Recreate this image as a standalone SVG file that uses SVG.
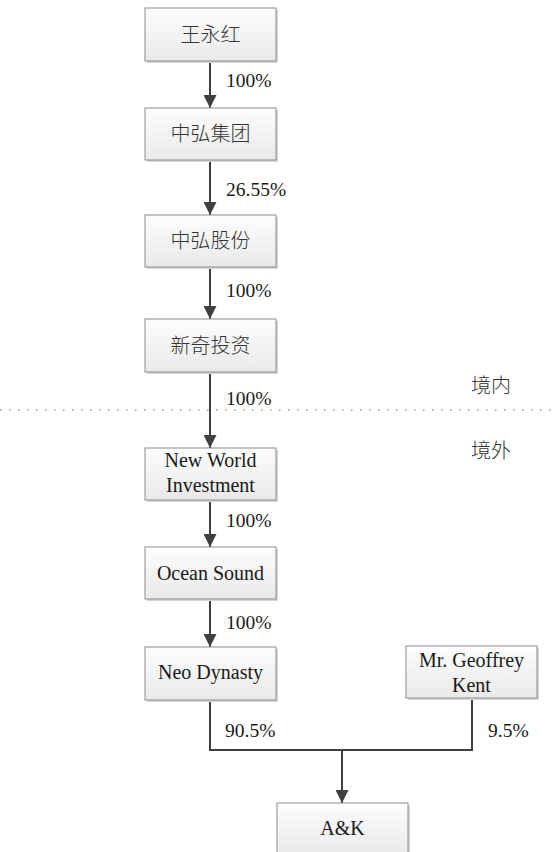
<svg xmlns="http://www.w3.org/2000/svg" width="553" height="852" viewBox="0 0 553 852">
<defs>
<linearGradient id="g" x1="0" y1="0" x2="0" y2="1">
<stop offset="0" stop-color="#fdfdfd"/>
<stop offset="1" stop-color="#e9e9e9"/>
</linearGradient>
<marker id="arr" viewBox="0 0 12 13" refX="13" refY="6.5" markerWidth="13" markerHeight="13" markerUnits="userSpaceOnUse" orient="auto">
<path d="M0,0 L13,6.5 L0,13 Z" fill="#404040"/>
</marker>
</defs>
<style>
.box{fill:url(#g);stroke:#8c8c8c;stroke-width:1}
.sh{fill:#d6d6d6}
.t{font-family:"Liberation Serif","Noto Sans CJK SC",serif;font-size:20px;fill:#1a1a1a;text-anchor:middle}
.cjk{font-weight:300;fill:#333333}
.l{font-family:"Liberation Serif","Noto Sans CJK SC",serif;font-size:19.5px;fill:#1a1a1a}
.c{stroke:#404040;stroke-width:2;fill:none}
</style>
<rect width="553" height="852" fill="#ffffff"/>
<g id="connectors">
<line class="c" x1="210" y1="61" x2="210" y2="108" marker-end="url(#arr)"/>
<line class="c" x1="210" y1="160" x2="210" y2="215" marker-end="url(#arr)"/>
<line class="c" x1="210" y1="267" x2="210" y2="319" marker-end="url(#arr)"/>
<line class="c" x1="210" y1="372" x2="210" y2="448" marker-end="url(#arr)"/>
<line class="c" x1="210" y1="500" x2="210" y2="547" marker-end="url(#arr)"/>
<line class="c" x1="210" y1="599" x2="210" y2="647" marker-end="url(#arr)"/>
<polyline class="c" points="210,700 210,750 472,750 472,698"/>
<line class="c" x1="342" y1="750" x2="342" y2="803" marker-end="url(#arr)"/>
</g>
<g id="labels">
<text class="l" x="226" y="87">100%</text>
<text class="l" x="226" y="196">26.55%</text>
<text class="l" x="226" y="297">100%</text>
<text class="l" x="226" y="405">100%</text>
<text class="l" x="226" y="527">100%</text>
<text class="l" x="226" y="629">100%</text>
<text class="l" x="225" y="737">90.5%</text>
<text class="l" x="488" y="737">9.5%</text>
</g>
<g id="boundary">
<line x1="0" y1="410" x2="553" y2="410" stroke="#9a9a9a" stroke-width="1.5" stroke-dasharray="1.5 7.5"/>
<text class="t cjk" x="491" y="393">境内</text>
<text class="t cjk" x="491" y="458">境外</text>
</g>
<g id="n1"><rect class="sh" x="147" y="10" width="131" height="53"/><rect class="box" x="145" y="8" width="131" height="53"/><text class="t cjk" x="210.5" y="42">王永红</text></g>
<g id="n2"><rect class="sh" x="147" y="110" width="131" height="52"/><rect class="box" x="145" y="108" width="131" height="52"/><text class="t cjk" x="210.5" y="141">中弘集团</text></g>
<g id="n3"><rect class="sh" x="147" y="217" width="131" height="52"/><rect class="box" x="145" y="215" width="131" height="52"/><text class="t cjk" x="210.5" y="248">中弘股份</text></g>
<g id="n4"><rect class="sh" x="147" y="321" width="131" height="53"/><rect class="box" x="145" y="319" width="131" height="53"/><text class="t cjk" x="210.5" y="353">新奇投资</text></g>
<g id="n5"><rect class="sh" x="147" y="450" width="131" height="52"/><rect class="box" x="145" y="448" width="131" height="52"/><text class="t" x="210.5" y="467">New World</text><text class="t" x="210.5" y="492">Investment</text></g>
<g id="n6"><rect class="sh" x="147" y="549" width="131" height="52"/><rect class="box" x="145" y="547" width="131" height="52"/><text class="t" x="210.5" y="580">Ocean Sound</text></g>
<g id="n7"><rect class="sh" x="147" y="649" width="131" height="53"/><rect class="box" x="145" y="647" width="131" height="53"/><text class="t" x="210.5" y="679">Neo Dynasty</text></g>
<g id="n8"><rect class="sh" x="408" y="648" width="131" height="52"/><rect class="box" x="406" y="646" width="131" height="52"/><text class="t" x="471.5" y="667">Mr. Geoffrey</text><text class="t" x="471.5" y="692">Kent</text></g>
<g id="n9"><rect class="sh" x="279" y="805" width="131" height="53"/><rect class="box" x="277" y="803" width="131" height="53"/><text class="t" x="342.5" y="835">A&amp;K</text></g>
</svg>
